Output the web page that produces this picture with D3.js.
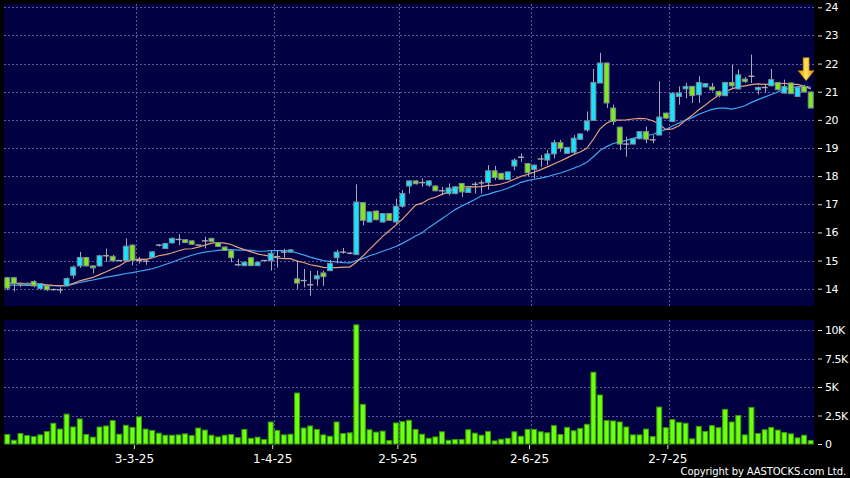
<!DOCTYPE html>
<html><head><meta charset="utf-8">
<script src="https://cdn.jsdelivr.net/npm/d3@7"></script>
<style>html,body{margin:0;padding:0;background:#000;}svg{display:block;}</style>
</head><body>
<svg id="chart" width="850" height="478"></svg>
<script>
// ---- data (one entry per trading day) ----
const open = [14.39,14.39,14.17,14.19,14.26,14.00,14.10,13.97,13.96,14.10,
14.48,14.81,15.11,14.81,14.81,15.17,15.15,15.00,15.00,15.55,
15.00,14.98,15.11,15.55,15.43,15.63,15.75,15.74,15.70,15.55,
15.70,15.79,15.64,15.48,15.36,14.85,14.82,15.10,14.82,15.00,
15.00,15.14,15.30,15.30,14.35,14.29,14.14,14.35,14.56,14.64,
15.10,15.30,15.26,15.21,17.06,16.37,16.76,16.37,16.67,16.37,
16.93,17.65,17.83,17.77,17.68,17.65,17.48,17.38,17.38,17.74,
17.42,17.71,17.76,17.77,18.19,18.10,17.88,18.36,18.67,18.45,
18.24,18.61,18.57,18.79,19.19,18.81,18.85,19.31,19.64,19.98,
21.31,22.02,20.42,19.74,19.14,19.14,19.33,19.58,19.29,19.46,
20.24,19.94,20.83,21.10,21.19,20.89,21.17,21.17,21.01,20.86,
21.33,21.10,21.45,21.55,21.07,21.15,21.21,21.33,20.95,21.31,
20.83,21.19,20.99];
const high = [14.42,14.42,14.22,14.22,14.30,14.20,14.12,14.00,14.05,14.40,
14.83,15.31,15.13,14.83,15.20,15.43,15.20,15.02,15.79,15.57,
15.13,15.05,15.33,15.58,15.63,15.82,15.94,15.76,15.72,15.57,
15.85,15.80,15.66,15.50,15.38,15.06,14.96,15.12,14.96,15.02,
15.36,15.36,15.42,15.40,15.00,14.70,14.64,14.64,14.64,15.02,
15.38,15.45,15.30,17.71,17.08,16.75,16.78,16.69,16.69,17.20,
17.50,17.86,17.86,17.92,17.86,17.67,17.62,17.74,17.64,17.76,
17.60,17.80,17.86,18.39,18.36,18.12,18.17,18.63,18.81,18.47,
18.41,18.75,18.93,19.29,19.29,19.04,19.46,19.52,20.30,21.81,
22.38,22.04,20.54,19.76,19.40,19.35,19.60,19.76,19.46,21.37,
20.26,20.97,21.19,21.31,21.21,21.55,21.31,21.31,21.04,21.35,
21.96,21.79,21.52,22.32,21.19,21.25,21.81,21.35,21.43,21.33,
21.17,21.25,21.01];
const low = [13.95,13.90,14.05,14.15,14.05,13.98,13.92,13.93,13.83,14.08,
14.36,14.74,14.79,14.55,14.78,14.95,14.97,14.98,14.98,14.83,
14.89,14.85,15.10,15.50,15.41,15.60,15.55,15.62,15.56,15.53,
15.43,15.66,15.49,15.34,14.94,14.80,14.80,14.80,14.80,14.98,
14.64,14.76,15.10,15.28,13.99,14.05,13.75,14.10,14.10,14.64,
14.90,15.24,15.22,15.20,16.25,16.35,16.43,16.35,16.41,16.30,
16.88,17.38,17.70,17.62,17.62,17.46,17.32,17.32,17.36,17.26,
17.40,17.38,17.38,17.52,17.86,17.87,17.86,18.21,18.51,18.00,
17.92,18.33,18.39,18.63,18.87,18.79,18.75,19.29,19.58,19.98,
21.30,20.42,19.82,18.93,18.69,19.12,19.31,19.17,19.17,19.46,
20.04,19.92,20.54,20.77,20.60,20.60,21.15,21.01,20.80,20.84,
21.14,21.08,21.31,21.31,20.90,20.98,21.19,21.05,20.93,20.93,
20.81,20.99,20.42];
const close = [14.02,14.18,14.16,14.18,14.10,14.18,13.96,13.97,13.96,14.36,
14.77,15.11,14.81,14.74,15.17,15.17,14.99,15.00,15.51,15.00,
15.00,14.98,15.31,15.55,15.61,15.79,15.75,15.64,15.58,15.55,
15.70,15.68,15.50,15.36,15.10,14.85,14.94,14.82,14.94,15.00,
15.26,15.14,15.30,15.38,14.20,14.29,14.14,14.46,14.43,14.90,
15.30,15.30,15.26,17.08,16.43,16.73,16.45,16.67,16.43,16.93,
17.38,17.83,17.73,17.77,17.83,17.48,17.48,17.58,17.62,17.44,
17.58,17.71,17.76,18.19,17.95,17.89,18.15,18.57,18.67,18.12,
18.39,18.61,18.79,19.19,18.99,19.02,19.35,19.50,19.96,21.33,
22.02,20.60,19.94,19.14,19.14,19.33,19.58,19.31,19.29,20.10,
20.06,20.95,20.95,21.19,20.86,21.33,21.29,21.07,20.86,21.33,
21.21,21.60,21.36,21.55,21.15,21.15,21.43,21.07,21.19,20.93,
21.15,20.99,20.42];
// volume in thousands of shares
const volumeK = [0.83,0.33,0.92,0.74,0.65,0.80,1.10,1.82,1.31,2.62,
1.49,2.20,0.83,0.60,1.49,1.58,2.05,0.86,1.64,1.46,
2.38,1.31,1.19,0.95,0.77,0.77,0.80,0.89,0.74,1.40,
1.22,0.77,0.62,0.77,0.83,0.56,1.28,0.50,0.60,0.39,
1.93,1.19,0.80,0.86,4.47,1.40,1.58,1.28,0.80,0.68,
1.93,0.92,0.98,10.45,3.48,1.25,1.04,1.13,0.30,1.85,
1.96,2.08,1.28,0.86,0.50,0.62,1.07,0.33,0.39,0.39,
1.25,0.95,0.77,1.10,0.27,0.42,0.50,1.07,0.68,1.28,
1.28,1.07,0.98,1.61,0.83,1.46,1.16,1.37,1.73,6.30,
4.30,2.05,2.02,1.93,1.49,0.80,0.80,1.31,0.65,3.24,
1.43,2.14,1.90,1.82,0.45,1.55,1.10,1.61,1.43,3.04,
1.93,2.50,0.80,3.21,0.92,1.25,1.46,1.22,1.01,0.89,
0.54,0.77,0.30];
// short moving average (orange) and long moving average (blue)
const maShort = [14.20,14.20,14.19,14.18,14.17,14.16,14.14,14.12,14.11,14.11,
14.18,14.28,14.34,14.40,14.50,14.60,14.71,14.81,14.96,15.03,
15.05,15.04,15.09,15.17,15.21,15.27,15.35,15.41,15.42,15.48,
15.55,15.62,15.64,15.62,15.57,15.47,15.39,15.31,15.24,15.19,
15.15,15.09,15.07,15.07,14.98,14.93,14.85,14.81,14.76,14.75,
14.75,14.77,14.77,14.94,15.16,15.40,15.63,15.86,16.06,16.26,
16.47,16.72,16.97,17.04,17.18,17.25,17.35,17.44,17.56,17.61,
17.63,17.62,17.63,17.67,17.68,17.72,17.79,17.89,17.99,18.06,
18.14,18.23,18.33,18.43,18.54,18.65,18.77,18.86,18.99,19.31,
19.68,19.88,19.99,19.99,20.00,20.03,20.05,20.04,19.97,19.85,
19.65,19.68,19.79,19.99,20.16,20.36,20.53,20.71,20.87,20.99,
21.10,21.17,21.21,21.25,21.28,21.26,21.27,21.27,21.30,21.26,
21.26,21.20,21.10];
const maLong = [14.13,14.13,14.13,14.12,14.12,14.12,14.11,14.11,14.10,14.12,
14.16,14.22,14.27,14.31,14.36,14.41,14.45,14.49,14.54,14.57,
14.62,14.66,14.71,14.78,14.86,14.94,15.03,15.11,15.19,15.25,
15.30,15.33,15.36,15.39,15.39,15.37,15.37,15.36,15.33,15.33,
15.35,15.35,15.35,15.34,15.27,15.20,15.12,15.06,15.00,14.97,
14.95,14.93,14.92,15.00,15.07,15.17,15.24,15.33,15.41,15.50,
15.61,15.74,15.87,15.99,16.17,16.33,16.49,16.65,16.81,16.94,
17.05,17.17,17.30,17.35,17.43,17.49,17.57,17.67,17.78,17.84,
17.89,17.93,17.98,18.05,18.11,18.19,18.28,18.37,18.49,18.69,
18.91,19.05,19.16,19.21,19.27,19.34,19.41,19.45,19.48,19.58,
19.66,19.78,19.89,19.99,20.08,20.20,20.29,20.37,20.42,20.42,
20.38,20.43,20.50,20.62,20.72,20.81,20.90,20.99,21.09,21.13,
21.18,21.18,21.16];
const dateTickIndex = [19, 40, 59, 79, 100];
const dateTickLabels = ["3-3-25", "1-4-25", "2-5-25", "2-6-25", "2-7-25"];
const priceTicks = [14,15,16,17,18,19,20,21,22,23,24];
const volumeTicks = [0, 2.5, 5, 7.5, 10];
const volumeTickLabels = ["0", "2.5K", "5K", "7.5K", "10K"];
const markerIndex = 121;

// ---- drawing ----
const W = 850, H = 478;
const svg = d3.select('#chart');
const FONT = '"DejaVu Sans", Verdana, sans-serif';
const panelFill = '#000042', gridCol = '#5a5a9a';
svg.append('rect').attr('width', W).attr('height', H).attr('fill', '#000');

const n = close.length;
const x = d3.scaleBand().domain(d3.range(n)).range([4, 814]).paddingInner(0.1).paddingOuter(0.05);
const bw = x.bandwidth();
const cx = i => x(i) + bw / 2;
const yP = d3.scaleLinear().domain([14, 24]).range([288.7, 7.3]);
const yV = d3.scaleLinear().domain([0, 10]).range([444, 330]);

const defs = svg.append('defs');
const g1 = defs.append('linearGradient').attr('id', 'arrowGrad').attr('x1', '0').attr('x2', '1').attr('y1', '0').attr('y2', '0');
g1.append('stop').attr('offset', '0').attr('stop-color', '#e08a00');
g1.append('stop').attr('offset', '0.5').attr('stop-color', '#ffe45a');
g1.append('stop').attr('offset', '1').attr('stop-color', '#e08a00');

// panels
svg.append('rect').attr('x', 4).attr('y', 4).attr('width', 810).attr('height', 302).attr('fill', panelFill);
svg.append('rect').attr('x', 4).attr('y', 320).attr('width', 810).attr('height', 125).attr('fill', panelFill);

// grids
const grid = svg.append('g').attr('stroke', gridCol).attr('stroke-width', 1).attr('stroke-dasharray', '2,2').attr('shape-rendering', 'crispEdges');
priceTicks.forEach(t => grid.append('line').attr('x1', 4).attr('x2', 814).attr('y1', Math.round(yP(t)) + 0.5).attr('y2', Math.round(yP(t)) + 0.5));
volumeTicks.filter(t => t > 0).forEach(t => grid.append('line').attr('x1', 4).attr('x2', 814).attr('y1', Math.round(yV(t)) + 0.5).attr('y2', Math.round(yV(t)) + 0.5));
dateTickIndex.forEach(i => {
  const gx = Math.round(x(i) + bw + 0.3) + 0.5;
  grid.append('line').attr('x1', gx).attr('x2', gx).attr('y1', 4).attr('y2', 306);
  grid.append('line').attr('x1', gx).attr('x2', gx).attr('y1', 320).attr('y2', 445);
});

// moving averages
const line = d3.line().x((d, i) => cx(i)).y(d => yP(d));
svg.append('path').datum(maLong).attr('d', line).attr('fill', 'none').attr('stroke', '#3fa9f2').attr('stroke-width', 1.2);
svg.append('path').datum(maShort).attr('d', line).attr('fill', 'none').attr('stroke', '#e9a07c').attr('stroke-width', 1.2);

// candles
const cg = svg.append('g');
d3.range(n).forEach(i => {
  const o = open[i], c = close[i];
  cg.append('line').attr('x1', Math.round(cx(i)) + 0.5).attr('x2', Math.round(cx(i)) + 0.5)
    .attr('y1', yP(high[i])).attr('y2', yP(low[i])).attr('stroke', '#a9a9b4').attr('stroke-width', 1);
  if (Math.abs(o - c) < 0.005) {
    cg.append('line').attr('x1', x(i)).attr('x2', x(i) + bw).attr('y1', yP(c)).attr('y2', yP(c))
      .attr('stroke', '#a9a9b4').attr('stroke-width', 1.4);
  } else {
    const top = yP(Math.max(o, c)), bot = yP(Math.min(o, c));
    cg.append('rect').attr('x', x(i) + 0.5).attr('y', top).attr('width', bw - 1).attr('height', Math.max(1, bot - top))
      .attr('fill', c > o ? '#14e4ff' : '#80e81e').attr('stroke', '#7e8c9a').attr('stroke-width', 1);
  }
});

// volume bars
svg.append('g').selectAll('rect').data(volumeK).join('rect')
  .attr('x', (d, i) => x(i) + 0.5).attr('y', d => yV(d)).attr('width', bw - 1).attr('height', d => yV(0) - yV(d))
  .attr('fill', '#6cff12').attr('stroke', '#3a9a08').attr('stroke-width', 1);

// marker arrow on latest bars
const ax = cx(markerIndex) + 2, ay = yP(high[markerIndex]) - 4;
svg.append('path')
  .attr('d', `M${ax - 3},${ay - 23} L${ax + 3},${ay - 23} L${ax + 3},${ay - 10} L${ax + 8},${ay - 10} L${ax},${ay} L${ax - 8},${ay - 10} L${ax - 3},${ay - 10} Z`)
  .attr('fill', 'url(#arrowGrad)').attr('stroke', '#c98000').attr('stroke-width', 0.6);

// right axes
const pAxis = d3.axisRight(yP).tickValues(priceTicks).tickSize(4).tickPadding(3).tickFormat(d3.format('d'));
const pa = svg.append('g').attr('transform', 'translate(818,0)').call(pAxis);
const vAxis = d3.axisRight(yV).tickValues(volumeTicks).tickSize(4).tickPadding(3).tickFormat((d, k) => volumeTickLabels[k]);
const va = svg.append('g').attr('transform', 'translate(818,0)').call(vAxis);
[pa, va].forEach(a => {
  a.select('.domain').remove();
  a.selectAll('line').attr('stroke', '#d8d8d8');
  a.selectAll('text').attr('fill', '#ffffff').style('font-family', FONT).style('font-size', '11px').style('letter-spacing', '-0.5px');
});

// date axis
const dAxis = d3.axisBottom(x).tickValues(dateTickIndex).tickSize(4).tickPadding(5).tickFormat((d, k) => dateTickLabels[k]);
const da = svg.append('g').attr('transform', 'translate(2,445)').call(dAxis);
da.select('.domain').remove();
da.selectAll('line').attr('stroke', '#d8d8d8');
da.selectAll('text').attr('fill', '#ffffff').style('font-family', FONT).style('font-size', '12px');

// copyright
svg.append('text').attr('x', 846).attr('y', 475).attr('text-anchor', 'end')
  .style('font-family', FONT).style('font-size', '10px').style('letter-spacing', '-0.1px').attr('fill', '#ffffff')
  .text('Copyright by AASTOCKS.com Ltd.');
</script>
</body></html>
